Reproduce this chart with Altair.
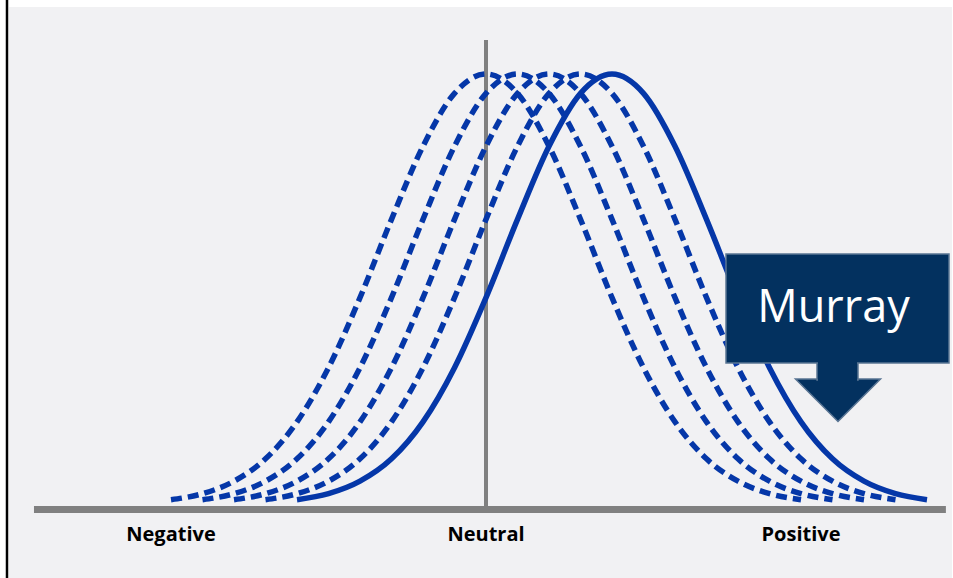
import altair as alt
import pandas as pd

# ---- data ----
# x position in label units: Negative = -1, Neutral = 0, Positive = 1
xs = [-1.0, -0.9, -0.8, -0.7, -0.6, -0.5, -0.4, -0.3, -0.2, -0.1, 0.0,
      0.1, 0.2, 0.3, 0.4, 0.5, 0.6, 0.7, 0.8, 0.9, 1.0, 1.1, 1.2, 1.3, 1.4]
N = None
curve_1 = [0.010, 0.024, 0.053, 0.105, 0.191, 0.317, 0.480, 0.662, 0.832, 0.955, 1.000,
           0.955, 0.832, 0.662, 0.480, 0.317, 0.191, 0.105, 0.053, 0.024, 0.010, N, N, N, N]
curve_2 = [N, 0.010, 0.024, 0.053, 0.105, 0.191, 0.317, 0.480, 0.662, 0.832, 0.955,
           1.000, 0.955, 0.832, 0.662, 0.480, 0.317, 0.191, 0.105, 0.053, 0.024, 0.010, N, N, N]
curve_3 = [N, N, 0.010, 0.024, 0.053, 0.105, 0.191, 0.317, 0.480, 0.662, 0.832,
           0.955, 1.000, 0.955, 0.832, 0.662, 0.480, 0.317, 0.191, 0.105, 0.053, 0.024, 0.010, N, N]
curve_4 = [N, N, N, 0.010, 0.024, 0.053, 0.105, 0.191, 0.317, 0.480, 0.662,
           0.832, 0.955, 1.000, 0.955, 0.832, 0.662, 0.480, 0.317, 0.191, 0.105, 0.053, 0.024, 0.010, N]
murray = [N, N, N, N, 0.010, 0.024, 0.053, 0.105, 0.191, 0.317, 0.480,
          0.662, 0.832, 0.955, 1.000, 0.955, 0.832, 0.662, 0.480, 0.317, 0.191, 0.105, 0.053, 0.024, 0.010]

dashed_curves = {"c1": curve_1, "c2": curve_2, "c3": curve_3, "c4": curve_4}

label_names = ["Negative", "Neutral", "Positive"]
label_pos = [-1.0, 0.0, 1.0]
callout_text = "Murray"

# ---- tables ----
rows = []
for name, vals in dashed_curves.items():
    for i, (x, v) in enumerate(zip(xs, vals)):
        if v is not None:
            rows.append({"x": x, "v": v, "curve": name, "i": i})
dashed_df = pd.DataFrame(rows)
solid_df = pd.DataFrame([{"x": x, "v": v, "i": i} for i, (x, v) in enumerate(zip(xs, murray)) if v is not None])
labels_df = pd.DataFrame({"label": label_names, "x": label_pos})

# axis lines (horizontal baseline and neutral divider), in data units
hline_df = pd.DataFrame({"x": [-1.435], "x2": [1.460], "y": [-0.0128]})
vline_df = pd.DataFrame({"x": [0.0], "y": [-0.0128], "y2": [1.079]})

BLUE = "#0537a8"
GRAY = "#808080"
NAVY = "#03315f"
EDGE = "#5a7594"

xscale = alt.Scale(domain=[-486 / 315, 467 / 315], nice=False, zero=False)
yscale = alt.Scale(domain=[-0.17209, 1.17209], nice=False, zero=False)

one = pd.DataFrame({"k": [0]})

background = alt.Chart(one).mark_rect(color="#f1f1f3").encode(
    x=alt.value(9), x2=alt.value(952), y=alt.value(7), y2=alt.value(578))

border = alt.Chart(one).mark_rule(color="black", strokeWidth=2.5).encode(
    x=alt.value(7), y=alt.value(0), y2=alt.value(578))

hline = alt.Chart(hline_df).mark_rule(color=GRAY, strokeWidth=7).encode(
    x=alt.X("x:Q", scale=xscale, axis=None), x2="x2:Q",
    y=alt.Y("y:Q", scale=yscale, axis=None))

vline = alt.Chart(vline_df).mark_rule(color=GRAY, strokeWidth=4).encode(
    x=alt.X("x:Q", scale=xscale, axis=None),
    y=alt.Y("y:Q", scale=yscale, axis=None), y2="y2:Q")

dashed = alt.Chart(dashed_df).mark_line(
    color=BLUE, strokeWidth=5.5, strokeDash=[11, 6], interpolate="monotone", strokeCap="butt"
).encode(
    x=alt.X("x:Q", scale=xscale, axis=None),
    y=alt.Y("v:Q", scale=yscale, axis=None),
    detail="curve:N",
    order="i:Q")

solid = alt.Chart(solid_df).mark_line(
    color=BLUE, strokeWidth=5.5, interpolate="monotone"
).encode(
    x=alt.X("x:Q", scale=xscale, axis=None),
    y=alt.Y("v:Q", scale=yscale, axis=None),
    order="i:Q")

labels = alt.Chart(labels_df).mark_text(
    font="Open Sans", fontWeight="bold", fontSize=20, color="black",
    align="center", baseline="alphabetic"
).encode(
    x=alt.X("x:Q", scale=xscale, axis=None),
    y=alt.value(541),
    text="label:N")

head = alt.Chart(one).mark_point(
    shape="M -1 -0.5 L 1 -0.5 L 0 0.5 Z", filled=True, fill=NAVY, stroke=EDGE,
    strokeWidth=1.5, opacity=1, size=85 * 85
).encode(x=alt.value(838), y=alt.value(400.25))

stem = alt.Chart(one).mark_rect(fill=NAVY, stroke=EDGE, strokeWidth=1.5).encode(
    x=alt.value(817), x2=alt.value(858), y=alt.value(360), y2=alt.value(380))

box = alt.Chart(one).mark_rect(fill=NAVY, stroke=EDGE, strokeWidth=1.5).encode(
    x=alt.value(726), x2=alt.value(949), y=alt.value(254), y2=alt.value(363))

cover = alt.Chart(one).mark_rect(fill=NAVY, strokeWidth=0).encode(
    x=alt.value(818), x2=alt.value(857), y=alt.value(358), y2=alt.value(382))

ctext = alt.Chart(one).mark_text(
    text=callout_text, font="Open Sans", fontSize=45, color="white",
    align="center", baseline="alphabetic"
).encode(x=alt.value(833.5), y=alt.value(322))

chart = alt.layer(
    background, border, hline, vline, dashed, solid, labels, head, stem, box, cover, ctext
).properties(
    width=953, height=578, padding=0, autosize=alt.AutoSizeParams(type="none"),
    background="white"
).configure_view(stroke=None)

chart.save("out.html", embed_options={"renderer": "svg", "actions": False})
